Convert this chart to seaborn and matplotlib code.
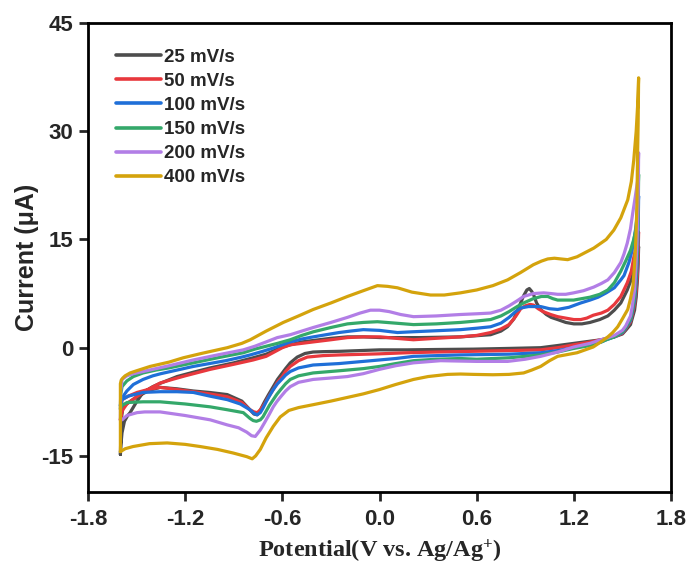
import numpy as np
import pandas as pd
import matplotlib
matplotlib.use("Agg")
import matplotlib.pyplot as plt
import seaborn as sns

# ---------------- data ----------------
rates = ["25 mV/s", "50 mV/s", "100 mV/s", "150 mV/s", "200 mV/s", "400 mV/s"]
colors = ["#4d4d4d", "#e8383d", "#1f6fd8", "#34a86a", "#b27ee6", "#d4a30c"]

x_ticks = [-1.8, -1.2, -0.6, 0.0, 0.6, 1.2, 1.8]
y_ticks = [-15, 0, 15, 30, 45]

# 25 mV/s : forward (anodic) and reverse (cathodic) sweeps
e25_fwd = [-1.60, -1.597, -1.59, -1.575, -1.555, -1.54, -1.50, -1.46, -1.40, -1.35, -1.25, -1.15, -1.045, -0.90, -0.78, -0.70, -0.65, -0.60, -0.551, -0.48, -0.409, -0.30, -0.198, -0.10, 0.006, 0.25, 0.50, 0.686, 0.75, 0.79, 0.83, 0.86, 0.89, 0.91, 0.925, 0.94, 0.952, 0.97, 0.995, 1.03, 1.06, 1.10, 1.15, 1.20, 1.25, 1.30, 1.36, 1.41, 1.45, 1.49, 1.53, 1.56, 1.583, 1.595, 1.60]
i25_fwd = [-14.8, -13.5, -11.8, -10.2, -9.4, -9.0, -7.5, -6.2, -5.4, -4.9, -4.0, -3.4, -2.8, -2.1, -1.4, -0.9, -0.4, 0.1, 0.4, 0.8, 1.0, 1.3, 1.5, 1.5, 1.4, 1.4, 1.5, 1.8, 2.3, 2.9, 4.0, 5.6, 7.2, 8.0, 8.2, 7.8, 7.3, 6.2, 5.3, 4.6, 4.2, 3.9, 3.5, 3.3, 3.3, 3.5, 3.9, 4.4, 5.2, 6.2, 8.0, 9.8, 11.8, 13.0, 14.0]
e25_rev = [1.60, 1.597, 1.593, 1.585, 1.575, 1.56, 1.55, 1.52, 1.50, 1.45, 1.37, 1.30, 1.20, 1.10, 0.995, 0.80, 0.581, 0.35, 0.173, 0.0, -0.242, -0.35, -0.41, -0.46, -0.508, -0.551, -0.58, -0.60, -0.63, -0.656, -0.685, -0.71, -0.735, -0.755, -0.775, -0.80, -0.85, -0.94, -1.05, -1.15, -1.25, -1.355, -1.42, -1.497, -1.55, -1.584, -1.595, -1.60]
i25_rev = [14.0, 11.5, 9.5, 7.0, 5.2, 4.0, 3.2, 2.4, 1.9, 1.5, 1.1, 0.9, 0.6, 0.3, 0.0, -0.1, -0.2, -0.25, -0.3, -0.3, -0.5, -0.55, -0.6, -0.8, -1.3, -2.1, -2.9, -3.5, -4.4, -5.4, -6.5, -7.5, -8.6, -9.3, -9.2, -8.6, -7.4, -6.5, -6.2, -6.0, -5.7, -5.5, -5.9, -6.8, -7.6, -8.2, -10.0, -14.8]

# 50 mV/s
e50_fwd = [-1.60, -1.595, -1.585, -1.56, -1.53, -1.50, -1.43, -1.355, -1.28, -1.20, -1.045, -0.90, -0.78, -0.70, -0.65, -0.60, -0.551, -0.48, -0.409, -0.30, -0.198, -0.10, 0.006, 0.10, 0.21, 0.35, 0.50, 0.60, 0.686, 0.75, 0.80, 0.84, 0.872, 0.90, 0.93, 0.952, 0.98, 1.01, 1.057, 1.10, 1.15, 1.20, 1.243, 1.28, 1.32, 1.37, 1.41, 1.45, 1.49, 1.53, 1.555, 1.57, 1.59, 1.60]
i50_fwd = [-10.0, -9.3, -8.6, -7.8, -7.3, -6.8, -5.8, -4.9, -4.4, -3.9, -3.0, -2.3, -1.7, -1.2, -0.6, 0.0, 0.4, 0.6, 0.8, 1.1, 1.4, 1.5, 1.5, 1.3, 1.1, 1.3, 1.5, 1.7, 2.1, 2.6, 3.2, 4.3, 5.4, 5.8, 6.0, 5.9, 5.4, 5.0, 4.6, 4.3, 4.1, 3.9, 3.9, 4.1, 4.5, 4.8, 5.2, 6.0, 7.1, 9.0, 10.6, 12.5, 14.5, 16.0]
e50_rev = [1.60, 1.597, 1.593, 1.585, 1.575, 1.56, 1.55, 1.52, 1.50, 1.45, 1.37, 1.28, 1.20, 1.10, 0.995, 0.80, 0.581, 0.35, 0.173, 0.0, -0.242, -0.35, -0.446, -0.50, -0.551, -0.58, -0.60, -0.63, -0.656, -0.685, -0.71, -0.735, -0.755, -0.775, -0.80, -0.85, -0.94, -1.05, -1.15, -1.25, -1.355, -1.43, -1.497, -1.55, -1.59, -1.60]
i50_rev = [16.0, 13.0, 10.5, 8.0, 6.0, 4.5, 3.6, 2.6, 2.0, 1.5, 1.1, 0.7, 0.4, 0.0, -0.3, -0.4, -0.5, -0.6, -0.7, -0.85, -1.0, -1.1, -1.3, -1.8, -2.6, -3.3, -4.0, -4.8, -5.8, -6.8, -7.8, -8.6, -9.0, -8.9, -8.6, -7.6, -6.8, -6.4, -6.1, -5.8, -5.5, -5.8, -6.2, -6.7, -7.2, -10.0]

# 100 mV/s
e100_fwd = [-1.60, -1.595, -1.585, -1.56, -1.52, -1.46, -1.40, -1.35, -1.25, -1.15, -1.05, -0.95, -0.85, -0.798, -0.72, -0.65, -0.60, -0.551, -0.48, -0.409, -0.33, -0.25, -0.18, -0.10, 0.0, 0.111, 0.20, 0.30, 0.50, 0.60, 0.686, 0.75, 0.80, 0.84, 0.872, 0.92, 0.995, 1.05, 1.10, 1.17, 1.243, 1.30, 1.35, 1.40, 1.45, 1.49, 1.51, 1.54, 1.56, 1.575, 1.585, 1.595, 1.60]
i100_fwd = [-8.0, -7.3, -6.8, -6.0, -5.1, -4.4, -3.9, -3.6, -3.1, -2.6, -2.2, -1.8, -1.3, -1.0, -0.5, 0.0, 0.4, 0.8, 1.2, 1.5, 1.8, 2.1, 2.3, 2.5, 2.4, 2.1, 2.2, 2.3, 2.5, 2.7, 2.9, 3.4, 4.2, 5.0, 5.5, 5.7, 5.7, 5.4, 5.3, 5.6, 6.2, 6.6, 7.0, 7.6, 8.3, 9.4, 10.0, 11.8, 13.5, 15.5, 17.0, 19.0, 21.0]
e100_rev = [1.60, 1.598, 1.595, 1.59, 1.583, 1.575, 1.56, 1.55, 1.52, 1.50, 1.45, 1.40, 1.37, 1.30, 1.20, 1.10, 0.995, 0.80, 0.50, 0.35, 0.21, 0.10, -0.10, -0.25, -0.41, -0.50, -0.551, -0.58, -0.60, -0.63, -0.656, -0.68, -0.70, -0.72, -0.736, -0.755, -0.775, -0.80, -0.86, -0.94, -1.05, -1.15, -1.25, -1.355, -1.46, -1.55, -1.59, -1.60]
i100_rev = [21.0, 17.5, 14.5, 11.0, 8.5, 6.5, 4.8, 3.8, 2.7, 2.1, 1.5, 1.1, 0.8, 0.4, 0.0, -0.4, -0.7, -0.9, -1.0, -1.1, -1.2, -1.5, -1.9, -2.2, -2.4, -2.8, -3.3, -3.8, -4.3, -5.0, -5.8, -6.7, -7.5, -8.4, -9.0, -9.3, -9.1, -8.6, -7.8, -7.2, -6.7, -6.2, -6.1, -6.1, -6.2, -6.7, -7.2, -8.0]

# 150 mV/s
e150_fwd = [-1.60, -1.598, -1.59, -1.56, -1.52, -1.46, -1.38, -1.30, -1.15, -1.00, -0.841, -0.77, -0.70, -0.63, -0.551, -0.48, -0.409, -0.30, -0.198, -0.10, -0.013, 0.10, 0.21, 0.35, 0.50, 0.60, 0.686, 0.75, 0.80, 0.85, 0.89, 0.95, 1.00, 1.039, 1.07, 1.10, 1.199, 1.25, 1.30, 1.36, 1.41, 1.45, 1.49, 1.52, 1.55, 1.57, 1.583, 1.59, 1.597, 1.60]
i150_fwd = [-8.5, -6.5, -5.4, -4.6, -4.0, -3.5, -3.1, -2.8, -2.1, -1.4, -0.7, -0.2, 0.2, 0.6, 1.1, 1.7, 2.2, 2.8, 3.3, 3.5, 3.6, 3.4, 3.2, 3.3, 3.5, 3.7, 3.9, 4.4, 5.0, 5.7, 6.2, 6.8, 7.1, 7.1, 6.8, 6.6, 6.6, 6.8, 7.0, 7.4, 8.0, 9.0, 10.6, 12.0, 13.5, 15.0, 16.3, 18.5, 21.5, 24.0]
e150_rev = [1.60, 1.598, 1.595, 1.59, 1.583, 1.575, 1.56, 1.55, 1.52, 1.50, 1.45, 1.40, 1.37, 1.30, 1.20, 1.10, 0.995, 0.80, 0.60, 0.50, 0.35, 0.21, 0.10, 0.0, -0.10, -0.25, -0.41, -0.50, -0.551, -0.58, -0.61, -0.635, -0.656, -0.68, -0.70, -0.72, -0.736, -0.76, -0.78, -0.80, -0.841, -0.94, -1.045, -1.20, -1.355, -1.46, -1.559, -1.59, -1.60]
i150_rev = [24.0, 19.5, 16.0, 12.5, 9.5, 7.0, 5.0, 4.0, 2.8, 2.2, 1.5, 1.1, 0.8, 0.3, -0.1, -0.6, -1.0, -1.4, -1.6, -1.5, -1.6, -1.8, -2.2, -2.6, -2.9, -3.2, -3.5, -3.9, -4.4, -5.0, -5.8, -6.5, -7.2, -8.0, -8.8, -9.6, -10.0, -10.2, -10.1, -9.8, -9.0, -8.6, -8.2, -7.8, -7.5, -7.5, -7.6, -8.0, -8.5]

# 200 mV/s
e200_fwd = [-1.60, -1.599, -1.598, -1.59, -1.56, -1.52, -1.46, -1.38, -1.30, -1.15, -1.00, -0.841, -0.77, -0.70, -0.631, -0.551, -0.48, -0.409, -0.30, -0.198, -0.12, -0.056, 0.0, 0.06, 0.13, 0.21, 0.35, 0.50, 0.60, 0.686, 0.75, 0.80, 0.85, 0.89, 0.95, 1.014, 1.06, 1.10, 1.15, 1.199, 1.26, 1.323, 1.37, 1.41, 1.45, 1.49, 1.51, 1.53, 1.55, 1.564, 1.58, 1.595, 1.60]
i200_fwd = [-10.0, -7.5, -6.0, -4.4, -3.9, -3.6, -3.3, -2.9, -2.5, -1.7, -1.0, -0.3, 0.2, 0.8, 1.4, 1.8, 2.3, 2.8, 3.5, 4.2, 4.8, 5.2, 5.2, 5.0, 4.6, 4.3, 4.4, 4.6, 4.7, 4.8, 5.2, 5.8, 6.5, 7.1, 7.5, 7.6, 7.5, 7.4, 7.4, 7.6, 7.9, 8.4, 8.9, 9.4, 10.4, 11.8, 13.0, 14.5, 16.5, 18.7, 21.0, 23.3, 27.0]
e200_rev = [1.60, 1.598, 1.595, 1.59, 1.583, 1.575, 1.56, 1.55, 1.52, 1.50, 1.45, 1.40, 1.366, 1.30, 1.20, 1.10, 0.995, 0.90, 0.791, 0.60, 0.377, 0.21, 0.10, 0.0, -0.10, -0.198, -0.30, -0.41, -0.50, -0.551, -0.58, -0.61, -0.635, -0.656, -0.68, -0.71, -0.736, -0.767, -0.79, -0.82, -0.87, -0.94, -1.045, -1.20, -1.355, -1.45, -1.497, -1.56, -1.59, -1.60]
i200_rev = [27.0, 22.0, 18.5, 14.5, 11.0, 8.0, 5.6, 4.4, 3.0, 2.4, 1.7, 1.3, 1.1, 0.6, 0.1, -0.6, -1.2, -1.6, -1.9, -1.9, -1.8, -2.1, -2.5, -3.0, -3.6, -4.0, -4.2, -4.4, -4.8, -5.4, -6.0, -6.8, -7.5, -8.2, -9.2, -10.4, -11.4, -12.3, -12.2, -11.7, -11.1, -10.7, -10.0, -9.4, -8.9, -8.9, -9.0, -9.4, -10.0, -10.0]

# 400 mV/s
e400_fwd = [-1.60, -1.60, -1.595, -1.585, -1.571, -1.54, -1.50, -1.417, -1.30, -1.212, -1.10, -0.94, -0.85, -0.798, -0.70, -0.594, -0.50, -0.409, -0.30, -0.198, -0.10, -0.013, 0.05, 0.111, 0.20, 0.315, 0.40, 0.50, 0.60, 0.70, 0.791, 0.87, 0.95, 1.00, 1.039, 1.08, 1.12, 1.162, 1.22, 1.323, 1.40, 1.447, 1.49, 1.533, 1.555, 1.57, 1.585, 1.595, 1.60]
i400_fwd = [-14.4, -5.0, -4.5, -4.2, -3.9, -3.5, -3.2, -2.6, -2.0, -1.4, -0.8, 0.0, 0.6, 1.1, 2.3, 3.5, 4.4, 5.3, 6.2, 7.1, 7.9, 8.6, 8.5, 8.3, 7.7, 7.3, 7.3, 7.6, 8.0, 8.6, 9.4, 10.4, 11.5, 12.0, 12.3, 12.4, 12.3, 12.2, 12.6, 13.8, 15.0, 16.3, 18.0, 20.5, 23.0, 26.0, 30.0, 34.0, 37.4]
e400_rev = [1.60, 1.597, 1.593, 1.59, 1.583, 1.575, 1.565, 1.55, 1.533, 1.50, 1.471, 1.44, 1.41, 1.36, 1.32, 1.22, 1.10, 1.05, 0.995, 0.94, 0.89, 0.80, 0.70, 0.581, 0.50, 0.42, 0.30, 0.21, 0.10, 0.0, -0.10, -0.20, -0.30, -0.41, -0.50, -0.56, -0.613, -0.656, -0.70, -0.736, -0.765, -0.786, -0.82, -0.903, -1.00, -1.107, -1.20, -1.311, -1.42, -1.522, -1.57, -1.60]
i400_rev = [37.4, 31.0, 26.0, 20.0, 15.0, 11.5, 8.5, 6.8, 5.3, 4.0, 2.9, 2.1, 1.5, 0.7, 0.1, -0.7, -1.2, -1.8, -2.6, -3.1, -3.5, -3.7, -3.75, -3.7, -3.65, -3.7, -4.0, -4.4, -5.1, -5.8, -6.4, -6.9, -7.4, -7.9, -8.3, -8.7, -9.6, -10.9, -12.5, -14.1, -15.0, -15.4, -15.1, -14.6, -14.1, -13.7, -13.4, -13.2, -13.3, -13.7, -14.0, -14.4]

curves = [
    (e25_fwd, i25_fwd, e25_rev, i25_rev),
    (e50_fwd, i50_fwd, e50_rev, i50_rev),
    (e100_fwd, i100_fwd, e100_rev, i100_rev),
    (e150_fwd, i150_fwd, e150_rev, i150_rev),
    (e200_fwd, i200_fwd, e200_rev, i200_rev),
    (e400_fwd, i400_fwd, e400_rev, i400_rev),
]

rows = []
for rate, (ef, jf, er, jr) in zip(rates, curves):
    for k, (e, j) in enumerate(zip(ef + er, jf + jr)):
        rows.append({"E": e, "I": j, "rate": rate, "order": k})
df = pd.DataFrame(rows)

# ---------------- style ----------------
sns.set_style("ticks")
plt.rcParams["font.family"] = ["Liberation Sans", "DejaVu Sans"]
plt.rcParams["font.weight"] = "bold"
plt.rcParams["axes.unicode_minus"] = False
plt.rcParams["mathtext.fontset"] = "custom"
plt.rcParams["mathtext.rm"] = "Liberation Serif:bold"
plt.rcParams["mathtext.bf"] = "Liberation Serif:bold"
plt.rcParams["mathtext.default"] = "bf"

fig = plt.figure(figsize=(6.91, 5.65), dpi=100)
ax = fig.add_axes([88 / 691, 1 - 492 / 565, (671 - 88) / 691, (492 - 23) / 565])

sns.lineplot(data=df, x="E", y="I", hue="rate", hue_order=rates,
             palette=colors, sort=False, estimator=None, linewidth=2.3,
             ax=ax)
for ln in ax.get_lines():
    ln.set_solid_joinstyle("round")
    ln.set_solid_capstyle("round")

ax.set_xlim(-1.8, 1.8)
ax.set_ylim(-20, 45)
ax.set_xticks(x_ticks)
ax.set_xticklabels([f"{v:.1f}" for v in x_ticks])
ax.set_yticks(y_ticks)
ax.set_yticklabels([str(v) for v in y_ticks])

for s in ["left", "bottom", "top", "right"]:
    ax.spines[s].set_linewidth(2.0)
    ax.spines[s].set_color("black")
ax.tick_params(axis="both", which="both", direction="out", length=6.5,
               width=2.0, labelsize=16, top=False, right=False)
ax.tick_params(axis="x", pad=6)
ax.tick_params(axis="y", pad=4)
for lab in ax.get_xticklabels() + ax.get_yticklabels():
    lab.set_fontweight("bold")

ax.set_xlabel("Potential(V vs. Ag/Ag$^{+}$)", family="Liberation Serif",
              fontweight="bold", fontsize=17.5, labelpad=5)
ax.set_ylabel("Current (\u03bcA)", fontweight="bold", fontsize=18, labelpad=2)

handles, labels = ax.get_legend_handles_labels()
leg = ax.legend(handles, labels, loc="upper left", bbox_to_anchor=(0.048, 0.945),
                frameon=False, borderpad=0, borderaxespad=0,
                labelspacing=0.37, handlelength=2.4, handletextpad=0.15,
                prop={"family": "Liberation Sans", "weight": "bold", "size": 13.5})
for line in leg.get_lines():
    line.set_linewidth(2.6)

fig.savefig("out.png", dpi=100)
